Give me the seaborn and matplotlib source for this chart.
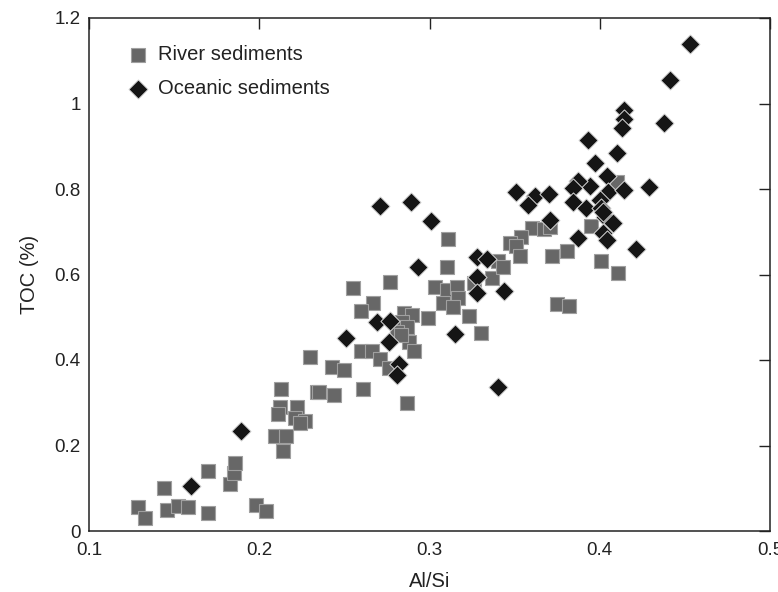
import numpy as np
import pandas as pd
import matplotlib
matplotlib.use("Agg")
import matplotlib.pyplot as plt
import seaborn as sns

# River sediments (grey squares)
river_x = [0.129, 0.133, 0.146, 0.152, 0.158, 0.170, 0.144, 0.170, 0.183, 0.185,
           0.186, 0.198, 0.204, 0.213, 0.212, 0.211, 0.222, 0.221, 0.227, 0.224,
           0.209, 0.216, 0.214, 0.234, 0.255, 0.277, 0.267, 0.260, 0.285, 0.290,
           0.299, 0.303, 0.284, 0.287, 0.281, 0.288, 0.291, 0.260, 0.266, 0.271,
           0.276, 0.230, 0.243, 0.250, 0.235, 0.244, 0.261, 0.287, 0.311, 0.310,
           0.310, 0.316, 0.317, 0.308, 0.314, 0.323, 0.330, 0.337, 0.340, 0.326,
           0.343, 0.410, 0.360, 0.367, 0.371, 0.395, 0.354, 0.347, 0.351, 0.353,
           0.372, 0.381, 0.401, 0.411, 0.375, 0.382, 0.283]
river_y = [0.056, 0.030, 0.049, 0.058, 0.056, 0.042, 0.101, 0.140, 0.110, 0.136,
           0.159, 0.061, 0.047, 0.332, 0.290, 0.274, 0.290, 0.264, 0.257, 0.253,
           0.222, 0.222, 0.187, 0.325, 0.568, 0.582, 0.533, 0.515, 0.510, 0.505,
           0.498, 0.571, 0.489, 0.477, 0.465, 0.442, 0.421, 0.421, 0.421, 0.402,
           0.381, 0.407, 0.384, 0.377, 0.325, 0.318, 0.332, 0.299, 0.683, 0.618,
           0.564, 0.571, 0.545, 0.533, 0.524, 0.503, 0.463, 0.592, 0.632, 0.580,
           0.618, 0.816, 0.709, 0.706, 0.711, 0.713, 0.688, 0.674, 0.667, 0.643,
           0.643, 0.655, 0.632, 0.604, 0.531, 0.526, 0.458]

# Oceanic sediments (black diamonds)
ocean_x = [0.160, 0.189, 0.293, 0.251, 0.269, 0.277, 0.276, 0.282, 0.281, 0.271,
           0.289, 0.301, 0.328, 0.334, 0.328, 0.328, 0.315, 0.340, 0.344, 0.453,
           0.441, 0.438, 0.414, 0.414, 0.413, 0.393, 0.410, 0.397, 0.404, 0.394,
           0.387, 0.384, 0.384, 0.392, 0.405, 0.414, 0.429, 0.400, 0.401, 0.403,
           0.408, 0.402, 0.404, 0.387, 0.421, 0.351, 0.362, 0.358, 0.370, 0.371,
           0.402]
ocean_y = [0.105, 0.234, 0.618, 0.451, 0.489, 0.491, 0.442, 0.391, 0.365, 0.760,
           0.770, 0.725, 0.641, 0.636, 0.594, 0.557, 0.461, 0.337, 0.561, 1.139,
           1.055, 0.954, 0.985, 0.964, 0.943, 0.915, 0.884, 0.861, 0.830, 0.807,
           0.819, 0.802, 0.770, 0.756, 0.793, 0.798, 0.805, 0.774, 0.756, 0.735,
           0.720, 0.697, 0.681, 0.685, 0.660, 0.793, 0.784, 0.763, 0.788, 0.727,
           0.746]

x_ticks = [0.1, 0.2, 0.3, 0.4, 0.5]
y_ticks = [0, 0.2, 0.4, 0.6, 0.8, 1.0, 1.2]
x_labels = ["0.1", "0.2", "0.3", "0.4", "0.5"]
y_labels = ["0", "0.2", "0.4", "0.6", "0.8", "1", "1.2"]

river = pd.DataFrame({"Al/Si": river_x, "TOC": river_y})
ocean = pd.DataFrame({"Al/Si": ocean_x, "TOC": ocean_y})

sns.set_style("white")
plt.rcParams["font.family"] = ["Liberation Sans", "DejaVu Sans"]

fig = plt.figure(figsize=(7.78, 5.92), dpi=100)
ax = fig.add_axes([89 / 778, 61 / 592, 681 / 778, 513 / 592])

sns.scatterplot(data=river, x="Al/Si", y="TOC", marker="s", s=100,
                color="#676767", edgecolor="#a0a0a0", linewidth=0.8,
                label="River sediments", ax=ax, zorder=2)
sns.scatterplot(data=ocean, x="Al/Si", y="TOC", marker="D", s=95,
                color="#151515", edgecolor="#d8d8d8", linewidth=0.7,
                label="Oceanic sediments", ax=ax, zorder=3)

ax.set_xlim(0.1, 0.5)
ax.set_ylim(0, 1.2)
ax.set_xticks(x_ticks)
ax.set_xticklabels(x_labels)
ax.set_yticks(y_ticks)
ax.set_yticklabels(y_labels)
ax.tick_params(direction="in", length=8, width=1.0, labelsize=13.5,
               colors="#222222", top=True, right=True)
ax.tick_params(axis="x", pad=8)
ax.tick_params(axis="y", pad=6)
ax.tick_params(labeltop=False, labelright=False)
for sp in ax.spines.values():
    sp.set_visible(True)
    sp.set_color("#222222")
    sp.set_linewidth(1.1)

ax.set_xlabel("Al/Si", fontsize=14.5, color="#222222", labelpad=9)
ax.set_ylabel("TOC (%)", fontsize=14.5, color="#222222", labelpad=11)

leg = ax.legend(loc="upper left", frameon=False, fontsize=14.5,
                bbox_to_anchor=(0.03, 0.975), handletextpad=0.3,
                handlelength=1.4, labelspacing=0.75, markerscale=1.0,
                borderaxespad=0.3)
for t in leg.get_texts():
    t.set_color("#222222")

fig.savefig("out.png", dpi=100)
